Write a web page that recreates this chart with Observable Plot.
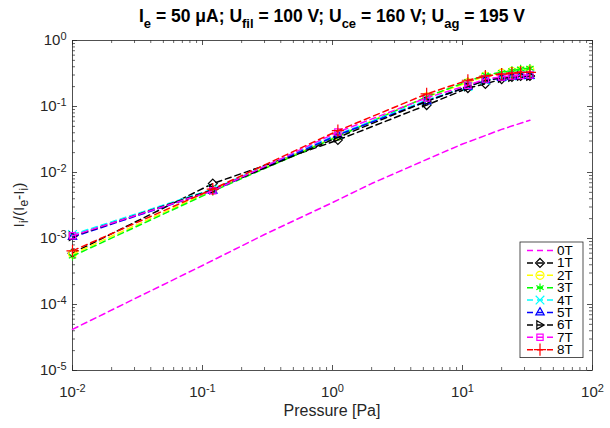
<!DOCTYPE html>
<html><head><meta charset="utf-8">
<script src="https://cdn.jsdelivr.net/npm/d3@7"></script>
<script src="https://cdn.jsdelivr.net/npm/@observablehq/plot@0.6"></script>
<style>body{margin:0;background:#fff;font-family:"Liberation Sans",Arial,sans-serif;}</style>
</head><body><div id="chart"></div>
<script>
// ---- data ----
const seriesNames = ["0T","1T","2T","3T","4T","5T","6T","7T","8T"];
const seriesColors = ["#ff00ff","#000000","#ffff00","#00ff00","#00ffff","#0000ff","#000000","#ff00ff","#ff0000"];
const seriesSymbols = [null,"diamond2","circle","asterisk","times","triangle2","triangleRight","square2","plus"];

const pressure0T = [0.01, 0.03, 0.1, 0.3, 1, 2, 5, 10, 20, 33];
const ratio0T = [4.2e-5, 1.22e-4, 3.9e-4, 1.15e-3, 3.5e-3, 6.8e-3, 0.015, 0.027, 0.045, 0.062];

const pressure = [0.01, 0.12, 1.1, 5.3, 11, 15, 20, 24, 28, 33];
const ratio1T = [6.0e-4, 6.8e-3, 0.031, 0.105, 0.19, 0.22, 0.26, 0.28, 0.29, 0.29];
const ratio2T = [5.8e-4, 5.4e-3, 0.036, 0.14, 0.23, 0.29, 0.32, 0.34, 0.35, 0.36];
const ratio3T = [5.4e-4, 5.2e-3, 0.035, 0.14, 0.24, 0.30, 0.33, 0.35, 0.37, 0.38];
const ratio4T = [1.15e-3, 5.6e-3, 0.038, 0.125, 0.20, 0.25, 0.28, 0.29, 0.30, 0.30];
const ratio5T = [1.05e-3, 5.3e-3, 0.037, 0.12, 0.20, 0.25, 0.27, 0.28, 0.29, 0.29];
const ratio6T = [1.08e-3, 5.5e-3, 0.034, 0.12, 0.20, 0.25, 0.27, 0.28, 0.29, 0.29];
const ratio7T = [1.1e-3, 5.3e-3, 0.041, 0.135, 0.21, 0.26, 0.28, 0.29, 0.295, 0.30];
const ratio8T = [6.5e-4, 5.6e-3, 0.043, 0.155, 0.25, 0.29, 0.31, 0.32, 0.33, 0.33];

const xTicks = [0.01, 0.1, 1, 10, 100];
const xTickLabels = [["10","-2"],["10","-1"],["10","0"],["10","1"],["10","2"]];
const yTicks = [1e-5, 1e-4, 1e-3, 1e-2, 1e-1, 1];
const yTickLabels = [["10","-5"],["10","-4"],["10","-3"],["10","-2"],["10","-1"],["10","0"]];

const titleParts = [["I",""],["e","sub"],[" = 50 μA; U",""],["fil","sub"],[" = 100 V; U",""],["ce","sub"],[" = 160 V; U",""],["ag","sub"],[" = 195 V",""]];
const yLabelParts = [["I",""],["i","sub"],["/(I",""],["e","sub"],["-I",""],["i","sub"],[")",""]];
const xLabel = "Pressure [Pa]";

// ---- build ----
const triangleRight = {
  draw(ctx, size) {
    const r = Math.sqrt(size / Math.PI) * 1.05;
    ctx.moveTo(r, 0);
    ctx.lineTo(-r * 0.75, -r);
    ctx.lineTo(-r * 0.75, r);
    ctx.closePath();
  }
};
const symMap = {
  diamond2: d3.symbolDiamond2, circle: d3.symbolCircle, asterisk: d3.symbolAsterisk,
  times: d3.symbolTimes, triangle2: d3.symbolTriangle2, square2: d3.symbolSquare2,
  plus: d3.symbolPlus, triangleRight: triangleRight
};
const ratios = [ratio0T, ratio1T, ratio2T, ratio3T, ratio4T, ratio5T, ratio6T, ratio7T, ratio8T];
const table = seriesNames.map((name, i) => {
  const px = i === 0 ? pressure0T : pressure;
  return ratios[i].map((v, j) => ({series: name, p: px[j], v}));
});

const W = 610, H = 428, mL = 72, mR = 18, mT = 40, mB = 58;
const plotW = W - mL - mR, plotH = H - mT - mB;
const axisColor = "#262626";
const FONT = '"Liberation Sans", Arial, sans-serif';

const minor = [];
for (let e = -5; e < 2; e++) for (let k = 2; k <= 9; k++) minor.push(k * Math.pow(10, e));
const xMinor = minor.filter(d => d > 0.01 && d < 100);
const yMinor = minor.filter(d => d > 1e-5 && d < 1);

function labelFor(ticks, labels) {
  return d => {
    const i = ticks.findIndex(t => Math.abs(Math.log10(t) - Math.log10(d)) < 1e-6);
    return i < 0 ? "" : labels[i].join("^");
  };
}

const marks = [
  Plot.frame({stroke: axisColor, strokeWidth: 0.8}),
  Plot.tickX(xTicks, {x: d => d, insetTop: plotH - 5, stroke: axisColor, strokeWidth: 0.8}),
  Plot.tickX(xTicks, {x: d => d, insetBottom: plotH - 5, stroke: axisColor, strokeWidth: 0.8}),
  Plot.tickX(xMinor, {x: d => d, insetTop: plotH - 3, stroke: axisColor, strokeWidth: 0.7}),
  Plot.tickX(xMinor, {x: d => d, insetBottom: plotH - 3, stroke: axisColor, strokeWidth: 0.7}),
  Plot.tickY(yTicks, {y: d => d, insetRight: plotW - 5, stroke: axisColor, strokeWidth: 0.8}),
  Plot.tickY(yTicks, {y: d => d, insetLeft: plotW - 5, stroke: axisColor, strokeWidth: 0.8}),
  Plot.tickY(yMinor, {y: d => d, insetRight: plotW - 3, stroke: axisColor, strokeWidth: 0.7}),
  Plot.tickY(yMinor, {y: d => d, insetLeft: plotW - 3, stroke: axisColor, strokeWidth: 0.7}),
  Plot.axisX({ticks: xTicks, tickSize: 0, tickPadding: 16, label: null, tickFormat: labelFor(xTicks, xTickLabels), fontSize: 15, fill: axisColor}),
  Plot.axisY({ticks: yTicks, tickSize: 0, tickPadding: 6, label: null, tickFormat: labelFor(yTicks, yTickLabels), fontSize: 15, fill: axisColor})
];
table.forEach((rows, i) => {
  marks.push(Plot.line(rows, {x: "p", y: "v", stroke: seriesColors[i], strokeWidth: 1.5, strokeDasharray: "6,4"}));
  if (seriesSymbols[i]) {
    marks.push(Plot.dot(rows, {x: "p", y: "v", stroke: seriesColors[i], fill: "none", strokeWidth: 1.2, r: 4, symbol: symMap[seriesSymbols[i]]}));
  }
});

const chart = Plot.plot({
  width: W, height: H, marginLeft: mL, marginRight: mR, marginTop: mT, marginBottom: mB,
  style: {fontFamily: FONT, background: "#fff"},
  x: {type: "log", domain: [0.01, 100], label: null},
  y: {type: "log", domain: [1e-5, 1], label: null},
  marks
});
document.getElementById("chart").appendChild(chart);

const svg = d3.select(chart);
// rebuild tick labels with superscripts
svg.selectAll('g[aria-label="x-axis tick label"] text, g[aria-label="y-axis tick label"] text').each(function () {
  const t = d3.select(this);
  const s = t.text();
  if (!s.includes("^")) return;
  const [base, sup] = s.split("^");
  t.text(null);
  t.append("tspan").text(base);
  t.append("tspan").attr("dy", "-0.5em").attr("font-size", "11px").text(sup);
});

function richText(g, parts, subSize, shift) {
  let prev = "";
  parts.forEach(([s, mode]) => {
    const ts = g.append("tspan").text(s);
    if (mode === "sub") {
      ts.attr("font-size", subSize);
      if (prev !== "sub") ts.attr("dy", shift);
    } else if (prev === "sub") {
      ts.attr("dy", -shift);
    }
    prev = mode;
  });
}
// title
const title = svg.append("text").attr("x", mL + plotW / 2).attr("y", 22)
  .attr("text-anchor", "middle").attr("font-size", 17.5).attr("font-weight", "bold").attr("fill", "#000");
richText(title, titleParts, "13px", 6);

// y label
const yl = svg.append("text").attr("transform", `translate(24,${mT + plotH / 2}) rotate(-90)`)
  .attr("text-anchor", "middle").attr("font-size", 15.5).attr("fill", axisColor);
richText(yl, yLabelParts, "12px", 4);

// x label
svg.append("text").attr("x", mL + plotW / 2).attr("y", 416).attr("text-anchor", "middle")
  .attr("font-size", 16).attr("fill", axisColor).text(xLabel);

// legend
const lg = svg.append("g").attr("aria-label", "legend");
const lx = 520, ly = 242, lw = 63, rowH = 12.4;
lg.append("rect").attr("x", lx).attr("y", ly).attr("width", lw).attr("height", rowH * seriesNames.length + 4)
  .attr("fill", "#fff").attr("stroke", axisColor).attr("stroke-width", 0.8);
seriesNames.forEach((name, i) => {
  const cy = ly + 8.5 + i * rowH;
  lg.append("line").attr("x1", lx + 7).attr("x2", lx + 33).attr("y1", cy).attr("y2", cy)
    .attr("stroke", seriesColors[i]).attr("stroke-width", 1.5).attr("stroke-dasharray", "6,4");
  if (seriesSymbols[i]) {
    lg.append("path").attr("d", d3.symbol(symMap[seriesSymbols[i]], Math.PI * 16)())
      .attr("transform", `translate(${lx + 20},${cy})`).attr("fill", "none")
      .attr("stroke", seriesColors[i]).attr("stroke-width", 1.2);
  }
  lg.append("text").attr("x", lx + 37).attr("y", cy + 4.5).attr("text-anchor", "start")
    .attr("font-size", 13.5).attr("fill", "#000").text(name);
});
</script>
</body></html>
